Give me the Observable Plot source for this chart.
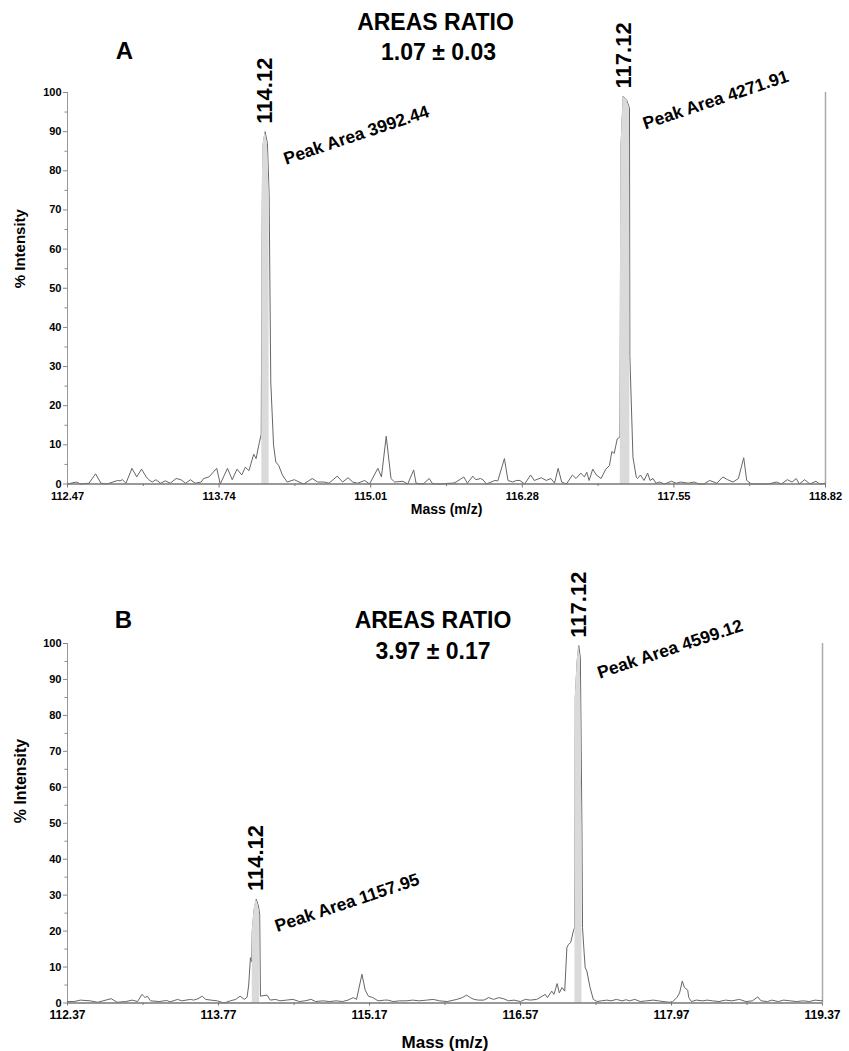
<!DOCTYPE html>
<html><head><meta charset="utf-8">
<script src="https://cdn.jsdelivr.net/npm/d3@7"></script>
<script src="https://cdn.jsdelivr.net/npm/@observablehq/plot@0.6"></script>
<style>
body{margin:0;background:#fff;}
#chart{width:849px;}
#chart svg{display:block;}
</style>
</head><body><div id="chart"></div>
<script>
const FONT = "'Liberation Sans', Arial, Helvetica, sans-serif";

// ---------- Panel A data ----------
const mzA = [112.47,112.545,112.58,112.65,112.705,112.75,112.80,112.89,112.91,112.93,112.96,113.01,113.05,113.09,113.13,113.15,113.18,113.21,113.25,113.29,113.33,113.38,113.42,113.46,113.50,113.54,113.59,113.61,113.655,113.72,113.75,113.81,113.85,113.89,113.93,113.96,113.99,114.03,114.05,114.075,114.093,114.098,114.105,114.125,114.145,114.159,114.173,114.196,114.215,114.24,114.27,114.31,114.37,114.41,114.45,114.52,114.565,114.62,114.66,114.73,114.775,114.82,114.86,114.90,114.96,115.00,115.07,115.10,115.14,115.18,115.21,115.28,115.32,115.37,115.39,115.45,115.50,115.53,115.60,115.67,115.70,115.725,115.79,115.82,115.865,115.89,115.93,115.95,115.98,116.02,116.05,116.075,116.13,116.16,116.20,116.23,116.26,116.30,116.35,116.38,116.44,116.48,116.52,116.55,116.58,116.61,116.65,116.70,116.73,116.77,116.80,116.82,116.84,116.87,116.90,116.94,116.98,117.01,117.03,117.05,117.075,117.098,117.101,117.105,117.125,117.155,117.178,117.181,117.207,117.235,117.245,117.27,117.30,117.33,117.35,117.375,117.40,117.43,117.47,117.53,117.57,117.61,117.67,117.72,117.76,117.80,117.85,117.91,117.96,118.00,118.045,118.09,118.135,118.16,118.20,118.27,118.34,118.41,118.45,118.50,118.54,118.575,118.60,118.645,118.69,118.74,118.77,118.82];
const intA = [0,0.5,0,0.2,2.6,0.2,0,0.9,0.8,1.1,0.2,4.0,1.8,3.8,1.8,1.1,0.5,1.1,0.2,0.8,0.2,1.4,1.1,0.2,1.1,0.2,0.5,1.4,1.8,4.0,0,4.0,1.1,3.8,2.3,4.3,3.4,7.6,6.5,10.3,12.7,52,86,90,87,74,26,10,5.6,4.7,2.3,0.5,1.1,0.5,0,1.4,0.5,0.5,0.2,2.0,0.5,1.6,0.5,0.2,0.9,0,4.0,1.8,12.2,1.4,0.5,0.7,0,3.6,0.2,0,1.4,0,0,0.2,0.2,0.5,1.8,0.2,2.0,1.1,1.4,1.1,0,0.5,0.9,0.8,6.5,0.9,0.5,0.9,0.9,0,2.3,0.9,1.6,0.9,1.4,0.2,4.0,0.5,0,2.3,1.4,2.8,1.8,3.0,0.9,3.8,2.3,1.4,3.8,4.7,8.3,7.8,11.5,12,36.6,85,99,98,96,32.8,6.8,1.7,1.4,2.3,0.9,2.8,0.9,1.4,0.2,0.5,0,0.7,0.2,0.5,0.2,0.5,0,0,0.9,0.2,1.8,1.1,0.5,1.4,6.7,0.9,0,0,0,0.5,0,1.1,0.5,1.4,0,1.1,0,0.7,0,0.2];
const bandsA = [[114.098,114.159],[117.101,117.181]];
const peakMzA = [114.125, 117.135];
const peakTopA = [90, 99];
const peakLabelA = ["114.12", "117.12"];
const peakAreaA = ["Peak Area 3992.44", "Peak Area 4271.91"];
const xMajorA = [112.47,113.74,115.01,116.28,117.55,118.82];
const xMinorA = [113.105,114.375,115.645,116.915,118.185];

// ---------- Panel B data ----------
const mzB = [112.37,112.43,112.49,112.58,112.65,112.775,112.83,112.91,112.97,113.02,113.06,113.09,113.11,113.14,113.22,113.29,113.32,113.39,113.43,113.51,113.54,113.58,113.62,113.65,113.70,113.76,113.82,113.88,113.93,113.97,114.01,114.035,114.05,114.066,114.078,114.083,114.10,114.12,114.14,114.152,114.159,114.22,114.25,114.30,114.34,114.40,114.46,114.52,114.57,114.63,114.67,114.74,114.80,114.86,114.92,114.97,115.02,115.05,115.10,115.13,115.16,115.20,115.25,115.31,115.34,115.39,115.45,115.51,115.57,115.63,115.70,115.76,115.82,115.89,115.98,116.03,116.07,116.105,116.14,116.18,116.23,116.275,116.32,116.37,116.41,116.46,116.51,116.57,116.615,116.66,116.72,116.75,116.80,116.82,116.86,116.88,116.91,116.93,116.955,116.98,117.00,117.015,117.035,117.06,117.072,117.075,117.078,117.095,117.11,117.125,117.14,117.145,117.16,117.17,117.185,117.215,117.245,117.28,117.32,117.37,117.41,117.46,117.51,117.55,117.58,117.63,117.68,117.74,117.80,117.85,117.89,117.95,117.98,118.02,118.045,118.07,118.09,118.12,118.13,118.155,118.20,118.26,118.30,118.35,118.41,118.47,118.53,118.60,118.66,118.72,118.77,118.80,118.86,118.90,118.96,119.01,119.07,119.13,119.19,119.25,119.30,119.37];
const intB = [0.4,0.4,0.8,0.6,0.2,1.2,0.2,0.4,0.8,0.4,2.4,1.5,1.9,0.6,0.4,0.7,0.3,1.0,0.6,1.0,0.8,1.2,1.9,1.0,0.8,0.6,0.0,0.6,1.0,1.9,1.0,1.6,5,12.6,11.5,20,26,28.9,27,24.7,1.9,2.2,0.8,1.0,0.6,0.8,1.0,0.4,0.6,1.0,0.4,0.6,0.4,0.6,0.4,0.8,1.5,1.0,8.0,3.6,1.9,1.5,0.6,0.8,0.8,0.4,0.6,0.6,0.8,0.6,0.8,1.0,0.6,0.4,1.0,1.5,2.2,1.5,1.0,0.8,0.8,1.5,1.0,1.5,1.2,0.6,0.8,0.4,1.0,0.8,1.0,1.5,2.4,1.5,3.3,2.4,5.4,2.8,4.3,3.3,15.4,16.3,16.8,20,21,39.5,85,95,99.4,96,47,21,14,9.8,8.9,4.3,1.0,0.4,0.6,0.8,0.6,1.0,0.6,0.9,0.6,1.0,0.4,0.6,0.8,0.6,0.4,0.2,0.4,1.5,2.8,6.1,4.3,3.6,1.5,0.4,0.8,0.6,0.8,0.6,0.4,0.8,0.6,1.0,0.4,0.6,1.7,0.6,0.4,0.8,0.4,0.8,0.6,0.4,0.6,0.4,0.8,0.6];
const bandsB = [[114.083,114.152],[117.075,117.14]];
const peakMzB = [114.12, 117.11];
const peakTopB = [28.9, 99.4];
const peakLabelB = ["114.12", "117.12"];
const peakAreaB = ["Peak Area 1157.95", "Peak Area 4599.12"];
const xMajorB = [112.37,113.77,115.17,116.57,117.97,119.37];
const xMinorB = [113.07,114.47,115.87,117.27,118.67];

const yMajor = [0,10,20,30,40,50,60,70,80,90,100];
const yMinor = [5,15,25,35,45,55,65,75,85,95];

function panel(o) {
  const trace = o.mz.map((m, i) => ({mz: m, v: o.inten[i]}));
  const bandData = o.bands.map(([a, b]) => trace.filter(d => d.mz >= a - 1e-9 && d.mz <= b + 1e-9));
  const peaks = o.peakMz.map((m, i) => ({mz: m, top: o.peakTop[i], label: o.peakLabel[i], area: o.peakArea[i]}));
  return Plot.plot({
    width: 849,
    height: o.height,
    marginTop: o.marginTop,
    marginBottom: o.marginBottom,
    marginLeft: 67,
    marginRight: o.marginRight,
    style: {fontFamily: FONT, fontWeight: "bold", background: "#fff", color: "#000", overflow: "visible"},
    x: {domain: o.domain},
    y: {domain: [0, 100]},
    marks: [
      Plot.axisY(yMajor, {tickSize: 4, tickPadding: 2, stroke: "#888", fill: "#000", fontSize: o.yTickFont, label: null}),
      Plot.axisY(yMinor, {tickSize: 2.5, tickFormat: () => "", stroke: "#888", label: null}),
      Plot.axisX(o.xMajor, {tickSize: o.xTickSize, tickPadding: o.xTickPad, tickFormat: d => d.toFixed(2), stroke: "#777", fill: "#000", fontSize: o.xTickFont, label: null}),
      Plot.axisX(o.xMinor, {tickSize: 2.5, tickFormat: () => "", stroke: "#777", label: null}),
      Plot.ruleX([o.domain[0]], {y1: 0, y2: 100, stroke: "#999", strokeWidth: 1}),
      Plot.ruleX([o.domain[1]], {y1: 0, y2: 100, stroke: "#aaa", strokeWidth: 1.5}),
      Plot.lineY(trace, {x: "mz", y: "v", stroke: "#666", strokeWidth: 1}),
      ...bandData.map(b => Plot.areaY(b, {x: "mz", y: "v", fill: "#dadada"})),
      Plot.ruleY([0], {stroke: "#777", strokeWidth: 1.4}),
      Plot.text(peaks, {x: "mz", y: "top", text: "label", rotate: -90, textAnchor: "start", lineAnchor: "middle", dy: -8, fontSize: 22, fontWeight: "bold", fill: "#000"}),
      Plot.text(peaks, {x: "mz", y: "top", text: "area", rotate: -18.5, textAnchor: "start", lineAnchor: "bottom", dx: 21, dy: 33, fontSize: 17.5, fontWeight: "bold", fill: "#000"}),
      Plot.text([o.letter], {frameAnchor: "top-left", dx: o.letterDx, dy: o.letterDy, fontSize: 24, fontWeight: "bold", lineAnchor: "middle", textAnchor: "middle", fill: "#000"}),
      Plot.text(["AREAS RATIO"], {frameAnchor: "top", dx: o.titleDx, dy: o.titleDy, fontSize: 23, fontWeight: "bold", lineAnchor: "middle", fill: "#000"}),
      Plot.text([o.ratio], {frameAnchor: "top", dx: o.ratioDx, dy: o.ratioDy, fontSize: 23, fontWeight: "bold", lineAnchor: "middle", fill: "#000"}),
      Plot.text(["% Intensity"], {frameAnchor: "left", rotate: -90, dx: -47, fontSize: o.yLabelFont, fontWeight: "bold", lineAnchor: "middle", fill: "#000"}),
      Plot.text(["Mass (m/z)"], {frameAnchor: "bottom", dy: o.xLabelDy, fontSize: o.xLabelFont, fontWeight: "bold", lineAnchor: "middle", fill: "#000"})
    ]
  });
}

const chart = document.getElementById("chart");
chart.append(panel({
  mz: mzA, inten: intA, bands: bandsA, peakMz: peakMzA, peakTop: peakTopA, peakLabel: peakLabelA, peakArea: peakAreaA,
  domain: [112.47, 118.82], xMajor: xMajorA, xMinor: xMinorA,
  height: 540, marginTop: 92, marginBottom: 56.5, marginRight: 24,
  yTickFont: 11, xTickFont: 11, xTickSize: 4, xTickPad: 4, yLabelFont: 15, xLabelFont: 14, xLabelDy: 26,
  letter: "A", letterDx: 57, letterDy: -41, titleDx: -11, titleDy: -70, ratio: "1.07 ± 0.03", ratioDx: -8, ratioDy: -40
}));
chart.append(panel({
  mz: mzB, inten: intB, bands: bandsB, peakMz: peakMzB, peakTop: peakTopB, peakLabel: peakLabelB, peakArea: peakAreaB,
  domain: [112.37, 119.37], xMajor: xMajorB, xMinor: xMinorB,
  height: 511, marginTop: 103, marginBottom: 48.5, marginRight: 27,
  yTickFont: 11, xTickFont: 12, xTickSize: 3, xTickPad: 4, yLabelFont: 16, xLabelFont: 17, xLabelDy: 40,
  letter: "B", letterDx: 56, letterDy: -23, titleDx: -12, titleDy: -23, ratio: "3.97 ± 0.17", ratioDx: -12, ratioDy: 8
}));
</script>
</body></html>
